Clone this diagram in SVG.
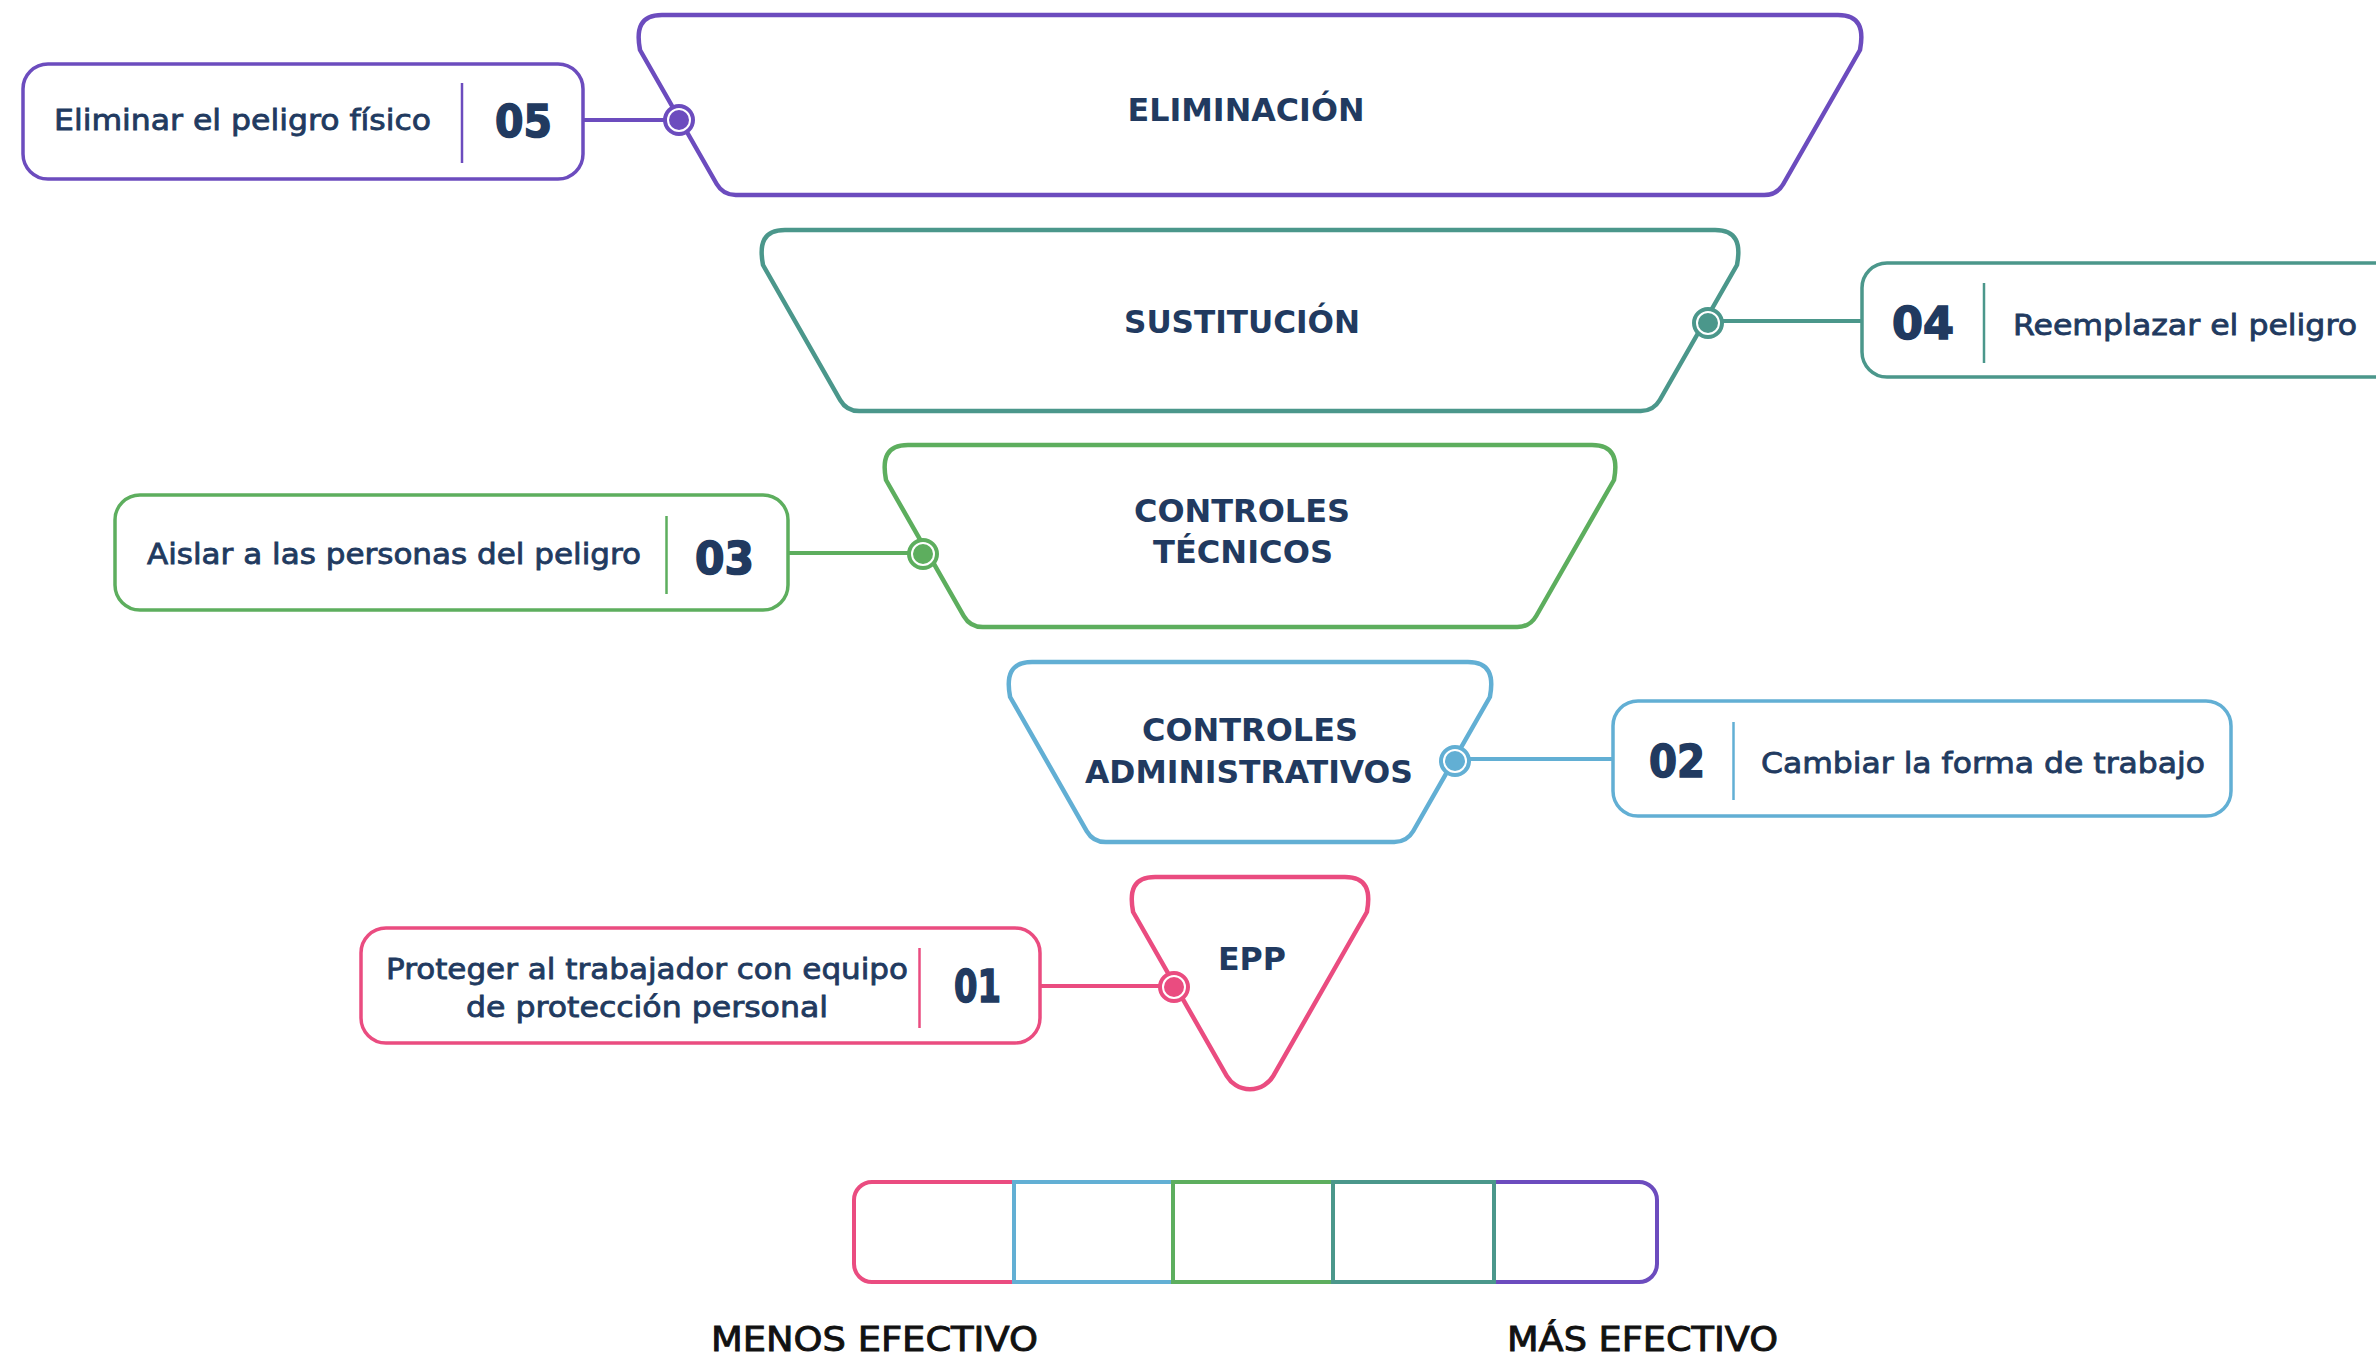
<svg xmlns="http://www.w3.org/2000/svg" width="2376" height="1359" viewBox="0 0 2376 1359">
<style>
.shape{fill:#fff;stroke-width:4.5;stroke-linejoin:round}
.box{fill:#fff;stroke-width:3.5}
.div{stroke-width:2.5}
.conn{stroke-width:4;fill:none}
.ring{fill:#fff;stroke-width:4}
.title{font-family:"DejaVu Sans",sans-serif;font-weight:bold;font-size:32px;fill:#213a60;text-anchor:middle}
.num{font-family:"DejaVu Sans",sans-serif;font-weight:bold;font-size:45px;fill:#213a60;stroke:#213a60;stroke-width:1.6;text-anchor:middle}
.lab{font-family:"DejaVu Sans",sans-serif;font-size:28px;fill:#213a60;stroke:#213a60;stroke-width:0.8;text-anchor:middle}
.foot{font-family:"DejaVu Sans",sans-serif;font-size:33px;fill:#111;stroke:#111;stroke-width:0.9;text-anchor:middle}
.pu{stroke:#6c4cbe}.te{stroke:#4b978b}.gr{stroke:#5dae5e}.bl{stroke:#62afd4}.pk{stroke:#ea4c80}
.fpu{fill:#6c4cbe}.fte{fill:#4b978b}.fgr{fill:#5dae5e}.fbl{fill:#62afd4}.fpk{fill:#ea4c80}
</style>
<rect width="2376" height="1359" fill="#fff"/>

<g id="level-eliminacion">
<path class="shape pu" d="M662 15 H1838 C1860 15 1864 29 1860 50 L1783.3 184 A22 22 0 0 1 1764.3 195 H735.7 A22 22 0 0 1 716.7 184 L640 50 C636 29 640 15 662 15 Z"/>
<text class="title" x="1246" y="121" textLength="237" lengthAdjust="spacingAndGlyphs">ELIMINACIÓN</text>
</g>
<g id="level-sustitucion">
<path class="shape te" d="M785 230 H1715 C1737 230 1741 244 1737 265 L1659.8 400 A22 22 0 0 1 1640.8 411 H859.2 A22 22 0 0 1 840.2 400 L763 265 C759 244 763 230 785 230 Z"/>
<text class="title" x="1242" y="333" textLength="236" lengthAdjust="spacingAndGlyphs">SUSTITUCIÓN</text>
</g>
<g id="level-controles-tecnicos">
<path class="shape gr" d="M908 445 H1592 C1614 445 1618 459 1614 480 L1536.2 616 A22 22 0 0 1 1517.2 627 H982.8 A22 22 0 0 1 963.8 616 L886 480 C882 459 886 445 908 445 Z"/>
<text class="title" x="1242" y="522" textLength="216" lengthAdjust="spacingAndGlyphs">CONTROLES</text>
<text class="title" x="1243" y="563" textLength="180" lengthAdjust="spacingAndGlyphs">TÉCNICOS</text>
</g>
<g id="level-controles-administrativos">
<path class="shape bl" d="M1032.1 662 H1467.9 C1489.9 662 1493.9 676 1489.9 697 L1413.3 831 A22 22 0 0 1 1394.3 842 H1105.7 A22 22 0 0 1 1086.7 831 L1010.1 697 C1006.1 676 1010.1 662 1032.1 662 Z"/>
<text class="title" x="1250" y="741" textLength="216" lengthAdjust="spacingAndGlyphs">CONTROLES</text>
<text class="title" x="1249" y="783" textLength="328" lengthAdjust="spacingAndGlyphs">ADMINISTRATIVOS</text>
</g>
<g id="level-epp">
<path class="shape pk" d="M1155.1 877 H1344.9 C1366.9 877 1370.9 891 1366.9 912 L1273.3 1075.9 A27 27 0 0 1 1226.7 1075.9 L1133.1 912 C1129.1 891 1133.1 877 1155.1 877 Z"/>
<text class="title" x="1252" y="970" textLength="68" lengthAdjust="spacingAndGlyphs">EPP</text>
</g>

<g id="callout-05">
<rect class="box pu" x="23" y="64" width="560" height="115" rx="25"/>
<line class="div pu" x1="462" y1="83" x2="462" y2="163"/>
<text class="lab" x="242.5" y="130" textLength="377" lengthAdjust="spacingAndGlyphs">Eliminar el peligro físico</text>
<text class="num" x="523.5" y="137" textLength="57" lengthAdjust="spacingAndGlyphs">05</text>
</g>
<g id="callout-04">
<rect class="box te" x="1862" y="263" width="560" height="114" rx="25"/>
<line class="div te" x1="1984" y1="283" x2="1984" y2="363"/>
<text class="num" x="1923" y="339" textLength="62" lengthAdjust="spacingAndGlyphs">04</text>
<text class="lab" x="2185" y="335" textLength="344" lengthAdjust="spacingAndGlyphs">Reemplazar el peligro</text>
</g>
<g id="callout-03">
<rect class="box gr" x="115" y="495" width="673" height="115" rx="25"/>
<line class="div gr" x1="666.5" y1="516" x2="666.5" y2="594"/>
<text class="lab" x="394" y="564" textLength="494" lengthAdjust="spacingAndGlyphs">Aislar a las personas del peligro</text>
<text class="num" x="724.5" y="574" textLength="59" lengthAdjust="spacingAndGlyphs">03</text>
</g>
<g id="callout-02">
<rect class="box bl" x="1613" y="701" width="618" height="115" rx="25"/>
<line class="div bl" x1="1733.5" y1="722" x2="1733.5" y2="800"/>
<text class="num" x="1677" y="777" textLength="56" lengthAdjust="spacingAndGlyphs">02</text>
<text class="lab" x="1983" y="773" textLength="444" lengthAdjust="spacingAndGlyphs">Cambiar la forma de trabajo</text>
</g>
<g id="callout-01">
<rect class="box pk" x="361" y="928" width="679" height="115" rx="25"/>
<line class="div pk" x1="919.5" y1="948" x2="919.5" y2="1028"/>
<text class="lab" x="647" y="979" textLength="522" lengthAdjust="spacingAndGlyphs">Proteger al trabajador con equipo</text>
<text class="lab" x="647" y="1017" textLength="362" lengthAdjust="spacingAndGlyphs">de protección personal</text>
<text class="num" x="977.5" y="1002" textLength="47" lengthAdjust="spacingAndGlyphs">01</text>
</g>

<g id="connectors">
<line class="conn pu" x1="583" y1="120" x2="679" y2="120"/>
<line class="conn te" x1="1708" y1="321" x2="1862" y2="321"/>
<line class="conn gr" x1="788" y1="553" x2="923" y2="553"/>
<line class="conn bl" x1="1455" y1="759" x2="1613" y2="759"/>
<line class="conn pk" x1="1040" y1="986" x2="1174" y2="986"/>
<circle class="ring pu" cx="679" cy="120" r="14"/><circle class="fpu" cx="679" cy="120" r="10"/>
<circle class="ring te" cx="1708" cy="323" r="14"/><circle class="fte" cx="1708" cy="323" r="10"/>
<circle class="ring gr" cx="923" cy="554" r="14"/><circle class="fgr" cx="923" cy="554" r="10"/>
<circle class="ring bl" cx="1455" cy="761" r="14"/><circle class="fbl" cx="1455" cy="761" r="10"/>
<circle class="ring pk" cx="1174" cy="987" r="14"/><circle class="fpk" cx="1174" cy="987" r="10"/>
</g>

<g id="effectiveness-scale">
<path class="conn pk" d="M1014 1182 H872 A18 18 0 0 0 854 1200 V1264 A18 18 0 0 0 872 1282 H1014"/>
<path class="conn pu" d="M1494 1182 H1639 A18 18 0 0 1 1657 1200 V1264 A18 18 0 0 1 1639 1282 H1494"/>
<rect class="conn bl" x="1014" y="1182" width="159" height="100"/>
<rect class="conn gr" x="1173" y="1182" width="160" height="100"/>
<rect class="conn te" x="1333" y="1182" width="161" height="100"/>
<text class="foot" x="874.5" y="1351" textLength="327" lengthAdjust="spacingAndGlyphs">MENOS EFECTIVO</text>
<text class="foot" x="1642.5" y="1351" textLength="271" lengthAdjust="spacingAndGlyphs">MÁS EFECTIVO</text>
</g>
</svg>
